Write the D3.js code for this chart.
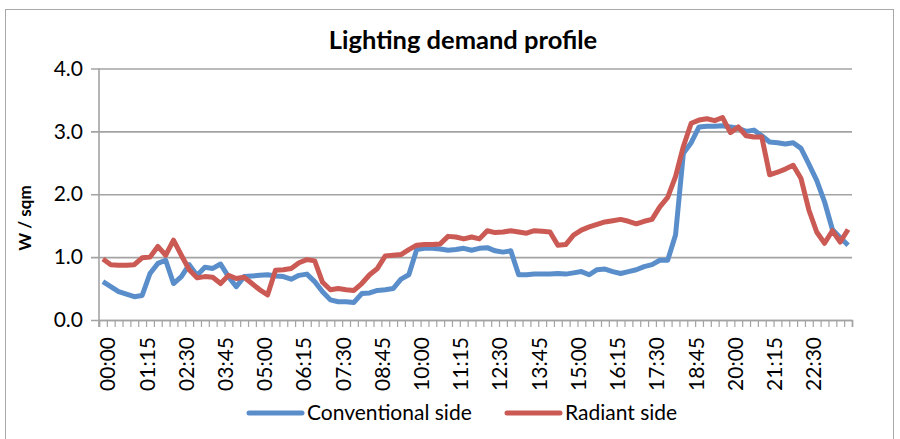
<!DOCTYPE html>
<html>
<head>
<meta charset="utf-8">
<script src="https://cdn.jsdelivr.net/npm/d3@7"></script>
<style>
  body { margin: 0; background: #fff; }
  svg { display: block; font-family: Lato, "Open Sans", sans-serif; }
</style>
</head>
<body>
<svg id="chart" width="900" height="439"></svg>
<script>
// 15 minute steps over one day
var categories = [
  "00:00","00:15","00:30","00:45","01:00","01:15","01:30","01:45","02:00","02:15","02:30","02:45",
  "03:00","03:15","03:30","03:45","04:00","04:15","04:30","04:45","05:00","05:15","05:30","05:45",
  "06:00","06:15","06:30","06:45","07:00","07:15","07:30","07:45","08:00","08:15","08:30","08:45",
  "09:00","09:15","09:30","09:45","10:00","10:15","10:30","10:45","11:00","11:15","11:30","11:45",
  "12:00","12:15","12:30","12:45","13:00","13:15","13:30","13:45","14:00","14:15","14:30","14:45",
  "15:00","15:15","15:30","15:45","16:00","16:15","16:30","16:45","17:00","17:15","17:30","17:45",
  "18:00","18:15","18:30","18:45","19:00","19:15","19:30","19:45","20:00","20:15","20:30","20:45",
  "21:00","21:15","21:30","21:45","22:00","22:15","22:30","22:45","23:00","23:15","23:30","23:45"
];

var tickLabels = ["00:00","01:15","02:30","03:45","05:00","06:15","07:30","08:45","10:00",
  "11:15","12:30","13:45","15:00","16:15","17:30","18:45","20:00","21:15","22:30"];

var conventional = [
  0.61,0.53,0.45,0.41,0.37,0.39,0.74,0.90,0.95,0.58,0.69,0.88,
  0.71,0.84,0.82,0.89,0.69,0.53,0.69,0.70,0.71,0.72,0.70,0.69,
  0.65,0.71,0.73,0.61,0.45,0.32,0.29,0.29,0.28,0.42,0.43,0.47,
  0.48,0.50,0.65,0.72,1.12,1.14,1.14,1.13,1.11,1.12,1.14,1.11,
  1.14,1.15,1.10,1.08,1.10,0.72,0.72,0.73,0.73,0.73,0.74,0.73,
  0.75,0.77,0.72,0.80,0.81,0.77,0.74,0.77,0.80,0.85,0.88,0.95,
  0.95,1.35,2.65,2.82,3.07,3.08,3.08,3.09,3.07,3.05,3.00,3.02,
  2.93,2.83,2.82,2.80,2.82,2.73,2.48,2.22,1.88,1.44,1.31,1.19
];

var radiant = [
  0.97,0.88,0.87,0.87,0.88,0.99,1.00,1.17,1.03,1.27,1.03,0.80,
  0.67,0.69,0.68,0.58,0.71,0.66,0.68,0.58,0.48,0.40,0.79,0.80,
  0.82,0.91,0.96,0.94,0.60,0.48,0.50,0.48,0.47,0.58,0.72,0.82,
  1.02,1.03,1.04,1.12,1.19,1.20,1.20,1.21,1.33,1.32,1.29,1.32,
  1.29,1.42,1.39,1.40,1.42,1.40,1.38,1.42,1.41,1.40,1.19,1.20,
  1.35,1.43,1.48,1.52,1.56,1.58,1.60,1.57,1.53,1.57,1.60,1.80,
  1.95,2.28,2.76,3.13,3.18,3.20,3.17,3.22,2.98,3.07,2.93,2.91,
  2.91,2.31,2.35,2.40,2.46,2.25,1.75,1.40,1.22,1.42,1.24,1.44
];

var seriesNames = ["Conventional side", "Radiant side"];
var yTicks = [0, 1, 2, 3, 4];

var svg = d3.select("#chart"),
  margin = {top: 68.5, right: 48, bottom: 119, left: 99},
  width = +svg.attr("width") - margin.left - margin.right,
  height = +svg.attr("height") - margin.top - margin.bottom;

var blue = "#5a8ecb", red = "#cb5a54", grid = "#a3a3a3";

// outer chart frame
svg.append("rect")
  .attr("x", 5.5).attr("y", 9.5)
  .attr("width", 888).attr("height", 460)
  .attr("fill", "none")
  .attr("stroke", "#a8a8a8");

svg.append("text")
  .attr("x", 463).attr("y", 49)
  .attr("text-anchor", "middle")
  .attr("font-weight", "bold")
  .attr("font-size", 25.5)
  .text("Lighting demand profile");

var x = d3.scaleBand().domain(categories).range([0, width]),
  xi = d3.scaleLinear().domain([0, categories.length]).range([0, width]),
  y = d3.scaleLinear().domain([0, 4]).range([height, 0]);

var g = svg.append("g")
  .attr("transform", "translate(" + margin.left + "," + margin.top + ")");

// gridlines + y axis
var yAxis = d3.axisLeft(y)
  .tickValues(yTicks)
  .tickSize(-width)
  .tickPadding(16)
  .tickFormat(d3.format(".1f"));

var gy = g.append("g").call(yAxis);
gy.select(".domain").remove();
gy.selectAll(".tick line")
  .attr("x1", -8)
  .attr("stroke", grid)
  .attr("stroke-width", 1.6);
gy.selectAll(".tick text")
  .attr("font-size", 21)
  .attr("font-family", "Lato, sans-serif")
  .attr("fill", "#000");

g.append("line")
  .attr("x1", 0).attr("x2", 0)
  .attr("y1", 0).attr("y2", height + 7)
  .attr("stroke", grid)
  .attr("stroke-width", 1.6);

// category boundary ticks
var xTickAxis = d3.axisBottom(xi)
  .tickValues(d3.range(0, categories.length + 1))
  .tickSize(7)
  .tickFormat("");
var gx = g.append("g")
  .attr("transform", "translate(0," + height + ")")
  .call(xTickAxis);
gx.select(".domain").attr("stroke", grid).attr("stroke-width", 1.6);
gx.selectAll(".tick line").attr("stroke", grid).attr("stroke-width", 1.2);

// rotated time labels
g.append("g")
  .selectAll("text")
  .data(tickLabels)
  .enter().append("text")
  .attr("transform", function(d) {
    return "translate(" + (x(d) + x.bandwidth() / 2 + 5) + "," + (height + 17) + ") rotate(-90)";
  })
  .attr("text-anchor", "end")
  .attr("dy", "0.35em")
  .attr("font-size", 21)
  .text(function(d) { return d; });

svg.append("text")
  .attr("transform", "translate(31,218) rotate(-90)")
  .attr("text-anchor", "middle")
  .attr("font-weight", "bold")
  .attr("font-size", 17)
  .text("W / sqm");

var line = d3.line()
  .x(function(d, i) { return x(categories[i]) + x.bandwidth() / 2; })
  .y(function(d) { return y(d); });

[[conventional, blue], [radiant, red]].forEach(function(s) {
  g.append("path")
    .datum(s[0])
    .attr("fill", "none")
    .attr("stroke", s[1])
    .attr("stroke-width", 5)
    .attr("stroke-linejoin", "round")
    .attr("d", line);
});

// legend
var legend = svg.append("g").attr("transform", "translate(0,413)");
var items = [
  {name: seriesNames[0], color: blue, x: 249},
  {name: seriesNames[1], color: red, x: 507}
];
items.forEach(function(it) {
  legend.append("line")
    .attr("x1", it.x).attr("x2", it.x + 53)
    .attr("stroke", it.color)
    .attr("stroke-width", 5)
    .attr("stroke-linecap", "round");
  legend.append("text")
    .attr("x", it.x + 58)
    .attr("dy", "0.35em")
    .attr("font-size", 21)
    .text(it.name);
});
</script>
</body>
</html>
